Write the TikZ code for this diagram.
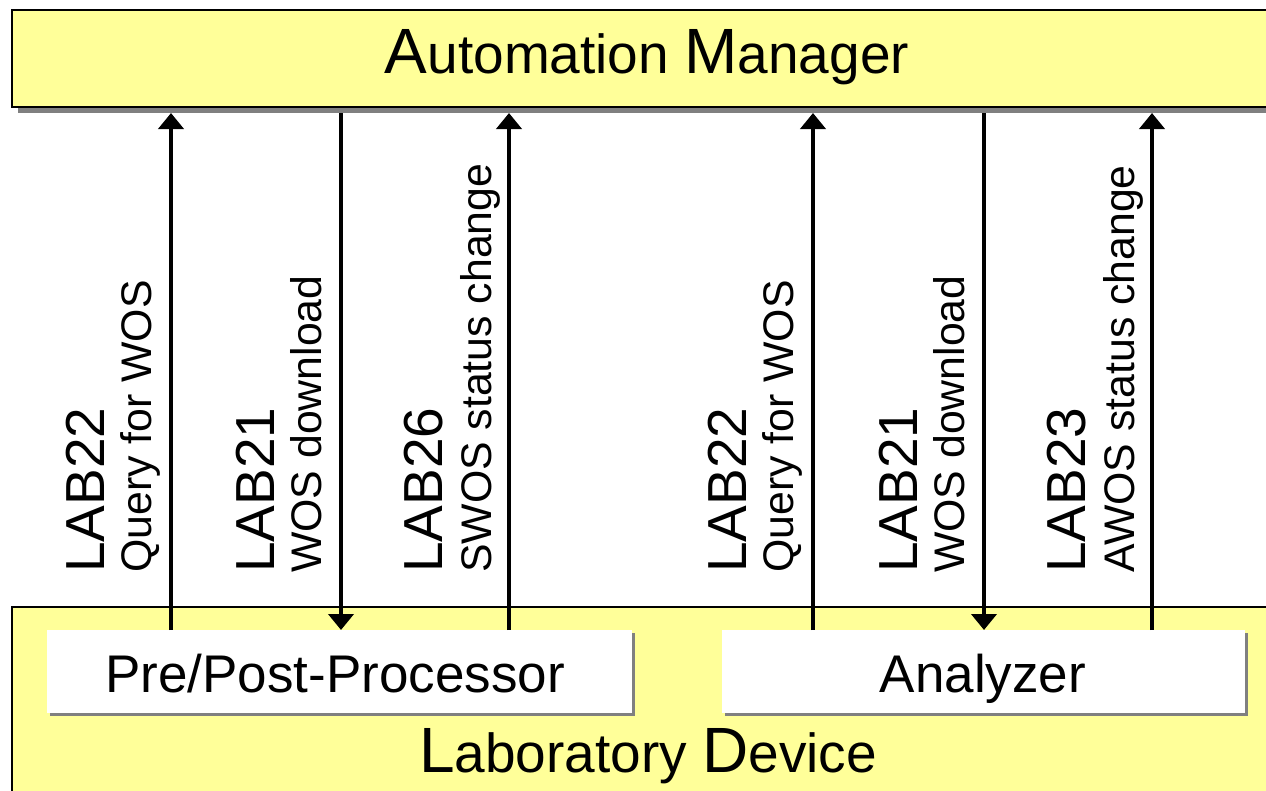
\documentclass[tikz,border=0pt]{standalone}
\usepackage{fontspec}
\setmainfont{Liberation Sans}
\usetikzlibrary{arrows.meta}
\definecolor{ylw}{HTML}{FFFF99}
\definecolor{shd}{HTML}{808080}
\newcommand{\mybigcap}[1]{{\fontsize{64bp}{64bp}\selectfont #1}}
\begin{document}
\begin{tikzpicture}[x=1bp,y=-1bp,
  ybox/.style={draw=black, line width=2.5bp, fill=ylw, inner sep=0pt, outer sep=0pt, anchor=north west},
  shbox/.style={fill=shd, draw=none, inner sep=0pt, outer sep=0pt, anchor=north west},
  wbox/.style={fill=white, draw=none, inner sep=0pt, outer sep=0pt, anchor=north west, minimum height=83bp},
  arr/.style={line width=4bp, -{Triangle[width=25bp,length=16bp]}},
  big/.style={anchor=base, inner sep=0pt, font=\fontsize{55bp}{60bp}\selectfont},
  boxtxt/.style={anchor=base, inner sep=0pt, font=\fontsize{53bp}{60bp}\selectfont},
  lab/.style={rotate=90, anchor=base west, inner sep=0pt, font=\fontsize{55bp}{60bp}\selectfont},
  desc/.style={rotate=90, anchor=base west, inner sep=0pt, font=\fontsize{42.8bp}{46bp}\selectfont}]
\useasboundingbox (0,0) rectangle (1266,791);
\clip (0,0) rectangle (1266,791);
\fill[white] (0,0) rectangle (1266,791);
% top box
\node[shbox, minimum width=1268bp, minimum height=97bp] (amsh) at (18,16) {};
\node[ybox, minimum width=1268bp, minimum height=97bp] (am) at (12,10) {};
\node[big] (amt) at (647,74) {\mybigcap{A}utomation \mybigcap{M}anager};
% bottom box
\node[ybox, minimum width=1268bp, minimum height=250bp] (ld) at (12,607) {};
\node[big] (ldt) at (648,772) {\mybigcap{L}aboratory \mybigcap{D}evice};
% white boxes
\node[shbox, minimum width=585bp, minimum height=83bp] (ppsh) at (50,633) {};
\node[wbox, minimum width=585bp] (pp) at (47,630) {};
\node[boxtxt] (ppt) at (335,692) {Pre/Post-Processor};
\node[shbox, minimum width=523bp, minimum height=83bp] (ansh) at (725,633) {};
\node[wbox, minimum width=523bp] (an) at (722,630) {};
\node[boxtxt] (ant) at (983,692) {Analyzer};
% arrow columns
\coordinate (x1) at (171,0);
\coordinate (x2) at (341,0);
\coordinate (x3) at (509,0);
\coordinate (x4) at (813,0);
\coordinate (x5) at (984,0);
\coordinate (x6) at (1152,0);
\draw[arr] (x1 |- pp.north) -- (x1 |- amsh.south);
\draw[arr] (x2 |- amsh.south) -- (x2 |- pp.north);
\draw[arr] (x3 |- pp.north) -- (x3 |- amsh.south);
\draw[arr] (x4 |- an.north) -- (x4 |- amsh.south);
\draw[arr] (x5 |- amsh.south) -- (x5 |- an.north);
\draw[arr] (x6 |- an.north) -- (x6 |- amsh.south);
% labels
\node[lab] (l1) at (104,573) {LAB22};
\node[desc] (d1) at (151,573) {Query for WOS};
\node[lab] (l2) at (274,573) {LAB21};
\node[desc] (d2) at (321,573) {WOS download};
\node[lab] (l3) at (442,573) {LAB26};
\node[desc] (d3) at (491,573) {SWOS status change};
\node[lab] (l4) at (746,573) {LAB22};
\node[desc] (d4) at (793,573) {Query for WOS};
\node[lab] (l5) at (917,573) {LAB21};
\node[desc] (d5) at (964,573) {WOS download};
\node[lab] (l6) at (1085,573) {LAB23};
\node[desc] (d6) at (1134,573) {AWOS status change};
\end{tikzpicture}
\end{document}
